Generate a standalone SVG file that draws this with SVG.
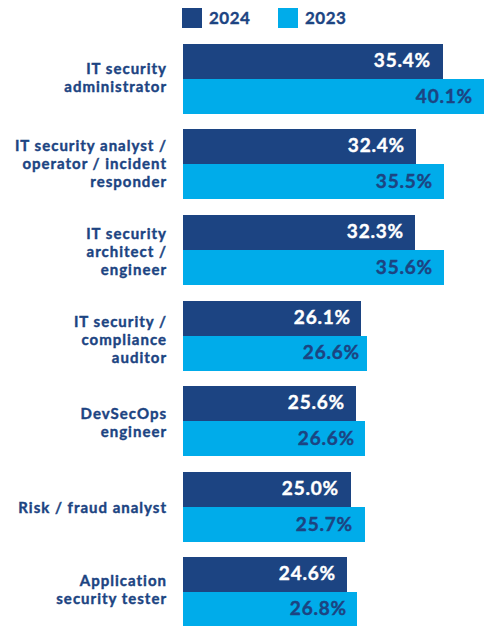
<svg xmlns="http://www.w3.org/2000/svg" width="490" height="626" viewBox="0 0 490 626">
<style>
.d{fill:#1c4482}
.l{fill:#00acea}
.lab{font-family:Lato,"Open Sans",sans-serif;font-weight:700;font-size:15px;fill:#1c4482;stroke:#1c4482;stroke-width:0.4px;text-anchor:end;letter-spacing:1px}
.v{font-family:Lato,"Open Sans",sans-serif;font-weight:700;font-size:19px;text-anchor:end;letter-spacing:0.8px;stroke-width:0.4px}
.vw{fill:#ffffff;stroke:#ffffff}
.vd{fill:#1c4482;stroke:#1c4482}
.leg{font-family:Lato,"Open Sans",sans-serif;font-weight:700;font-size:17px;fill:#1c4482;stroke:#1c4482;stroke-width:0.35px;letter-spacing:0.5px}
</style>
<rect width="490" height="626" fill="#ffffff"/>
<g id="legend">
<rect class="d" x="182" y="8" width="20" height="20"/>
<text class="leg" x="209" y="24">2024</text>
<rect class="l" x="278" y="8" width="20" height="20"/>
<text class="leg" x="305" y="24">2023</text>
</g>
<g id="g1">
<text class="lab" x="167" y="74">IT security</text>
<text class="lab" x="167" y="92">administrator</text>
<rect class="d" x="183" y="44" width="260" height="35"/>
<rect class="l" x="183" y="79" width="301" height="35"/>
<text class="v vw" x="431" y="67">35.4%</text>
<text class="v vd" x="473" y="103">40.1%</text>
</g>
<g id="g2">
<text class="lab" x="167" y="151">IT security analyst /</text>
<text class="lab" x="167" y="169">operator / incident</text>
<text class="lab" x="167" y="187">responder</text>
<rect class="d" x="183" y="129" width="233" height="35"/>
<rect class="l" x="183" y="164" width="261" height="35"/>
<text class="v vw" x="405" y="152">32.4%</text>
<text class="v vd" x="433" y="188">35.5%</text>
</g>
<g id="g3">
<text class="lab" x="167" y="239">IT security</text>
<text class="lab" x="167" y="257">architect /</text>
<text class="lab" x="167" y="275">engineer</text>
<rect class="d" x="183" y="215" width="232" height="35"/>
<rect class="l" x="183" y="250" width="261" height="35"/>
<text class="v vw" x="404" y="238">32.3%</text>
<text class="v vd" x="433" y="274">35.6%</text>
</g>
<g id="g4">
<text class="lab" x="167" y="327">IT security /</text>
<text class="lab" x="167" y="345">compliance</text>
<text class="lab" x="167" y="363">auditor</text>
<rect class="d" x="183" y="301" width="178" height="35"/>
<rect class="l" x="183" y="336" width="184" height="35"/>
<text class="v vw" x="351" y="324">26.1%</text>
<text class="v vd" x="360" y="359">26.6%</text>
</g>
<g id="g5">
<text class="lab" x="167" y="419">DevSecOps</text>
<text class="lab" x="167" y="437">engineer</text>
<rect class="d" x="183" y="386" width="173" height="35"/>
<rect class="l" x="183" y="421" width="182" height="35"/>
<text class="v vw" x="345" y="409">25.6%</text>
<text class="v vd" x="355" y="445">26.6%</text>
</g>
<g id="g6">
<text class="lab" x="167" y="513">Risk / fraud analyst</text>
<rect class="d" x="183" y="472" width="168" height="35"/>
<rect class="l" x="183" y="507" width="182" height="35"/>
<text class="v vw" x="339" y="495">25.0%</text>
<text class="v vd" x="353" y="531">25.7%</text>
</g>
<g id="g7">
<text class="lab" x="167" y="586">Application</text>
<text class="lab" x="167" y="604">security tester</text>
<rect class="d" x="183" y="557" width="164" height="35"/>
<rect class="l" x="183" y="592" width="174" height="34"/>
<text class="v vw" x="336" y="580">24.6%</text>
<text class="v vd" x="347" y="615">26.8%</text>
</g>
</svg>
